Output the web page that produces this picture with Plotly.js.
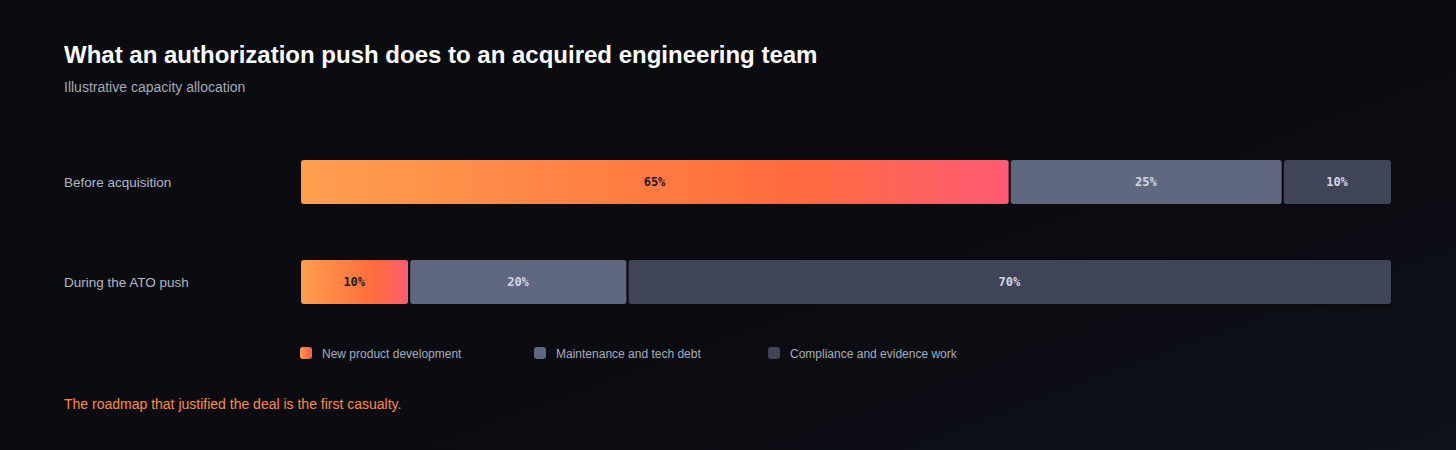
<!DOCTYPE html>
<html>
<head>
<meta charset="utf-8">
<script src="https://cdn.plot.ly/plotly-3.0.1.min.js"></script>
<style>
  html, body { margin: 0; padding: 0; }
  body { width: 1456px; height: 450px; background: linear-gradient(160deg, #0a0b0f 0%, #0b0c11 60%, #0e111a 100%); }
  #chart { width: 1456px; height: 450px; }
</style>
</head>
<body>
<div id="chart"></div>
<script>
const stages = ['Before acquisition', 'During the ATO push'];
const seriesNames = ['New product development', 'Maintenance and tech debt', 'Compliance and evidence work'];
const newProduct = [65, 10];
const maintenance = [25, 20];
const compliance = [10, 70];

const colors = ['#ff7a45', '#5f6880', '#3f4456'];
const textColors = ['#1a1a20', '#d3d8e4', '#d3d8e4'];
const bg = '#0b0c10';

// overlay with explicit bases so every segment keeps its own rounded corners
const series = [newProduct, maintenance, compliance];
const bases = series.map((_, i) => stages.map((__, j) => series.slice(0, i).reduce((s, v) => s + v[j], 0)));

const traces = series.map((vals, i) => ({
  type: 'bar',
  orientation: 'h',
  name: seriesNames[i],
  y: stages,
  x: vals,
  base: bases[i],
  marker: { color: colors[i], line: { color: bg, width: 2 } },
  texttemplate: '%{x}%',
  textposition: 'inside',
  insidetextanchor: 'middle',
  textangle: 0,
  constraintext: 'none',
  textfont: { family: 'DejaVu Sans Mono', size: 12, color: textColors[i], weight: 'bold' },
  hoverinfo: 'skip'
}));

const sans = 'Liberation Sans, Arial, sans-serif';
const lx = -0.2179;
const annotations = [
  { text: '<b>What an authorization push does to an acquired engineering team</b>', x: lx, y: 1.39,
    font: { family: sans, size: 24, color: '#ffffff' } },
  { text: 'Illustrative capacity allocation', x: lx, y: 1.225,
    font: { family: sans, size: 14, color: '#a3a9b7' } },
  { text: 'The roadmap that justified the deal is the first casualty.', x: lx, y: -0.36,
    font: { family: sans, size: 14, color: '#ff8a3d' } }
].map(a => Object.assign({ xref: 'paper', yref: 'paper', xanchor: 'left', yanchor: 'middle', showarrow: false }, a));

stages.forEach(s => annotations.push({
  text: s, xref: 'paper', yref: 'y', x: lx, y: s, xanchor: 'left', yanchor: 'middle',
  showarrow: false, font: { family: sans, size: 13.5, color: '#b2b8c6' }
}));

const layout = {
  width: 1456, height: 450,
  margin: { l: 300, r: 64, t: 132, b: 118, pad: 0 },
  paper_bgcolor: 'rgba(0,0,0,0)',
  plot_bgcolor: 'rgba(0,0,0,0)',
  barmode: 'overlay',
  bargap: 0.54,
  barcornerradius: 4,
  showlegend: true,
  legend: {
    orientation: 'h', traceorder: 'normal', x: -0.0128, xanchor: 'left', y: -0.105, yanchor: 'middle',
    entrywidth: 189, entrywidthmode: 'pixels', itemwidth: 30, itemclick: false, itemdoubleclick: false,
    font: { family: sans, size: 12, color: '#a7adbb' }, bgcolor: 'rgba(0,0,0,0)'
  },
  xaxis: { range: [0, 100], visible: false, fixedrange: true },
  yaxis: { range: [1.5, -0.5], type: 'category', categoryarray: stages, visible: false, fixedrange: true },
  annotations: annotations
};

Plotly.newPlot('chart', traces, layout, { displayModeBar: false, staticPlot: true }).then(gd => {
  // swap the flat orange for the horizontal gradient on the first series (bars + legend swatch)
  const svg = gd.querySelector('svg.main-svg');
  const ns = 'http://www.w3.org/2000/svg';
  let defs = svg.querySelector('defs');
  if (!defs) { defs = document.createElementNS(ns, 'defs'); svg.insertBefore(defs, svg.firstChild); }
  const grad = document.createElementNS(ns, 'linearGradient');
  grad.setAttribute('id', 'npdGrad');
  grad.setAttribute('x1', '0'); grad.setAttribute('x2', '1');
  grad.setAttribute('y1', '0'); grad.setAttribute('y2', '0');
  [['0', '#ff9f4f'], ['0.7', '#ff6b3d'], ['1', '#ff5a74']].forEach(([o, c]) => {
    const st = document.createElementNS(ns, 'stop');
    st.setAttribute('offset', o); st.setAttribute('stop-color', c);
    grad.appendChild(st);
  });
  defs.appendChild(grad);
  const first = gd.querySelectorAll('.barlayer .trace')[0];
  first.querySelectorAll('.point path').forEach(p => { p.style.fill = 'url(#npdGrad)'; });
  const rounded = 'M-3,-6H3A3,3 0 0 1 6,-3V3A3,3 0 0 1 3,6H-3A3,3 0 0 1 -6,3V-3A3,3 0 0 1 -3,-6Z';
  gd.querySelectorAll('.legend .traces').forEach(t => {
    const label = t.querySelector('.legendtext');
    if (label) label.setAttribute('x', parseFloat(label.getAttribute('x')) - 4);
    t.querySelectorAll('.legendpoints path').forEach(p => {
      p.style.stroke = 'none';
      p.setAttribute('d', rounded);
      if (label && label.textContent === seriesNames[0]) p.style.fill = 'url(#npdGrad)';
    });
  });
});
</script>
</body>
</html>
